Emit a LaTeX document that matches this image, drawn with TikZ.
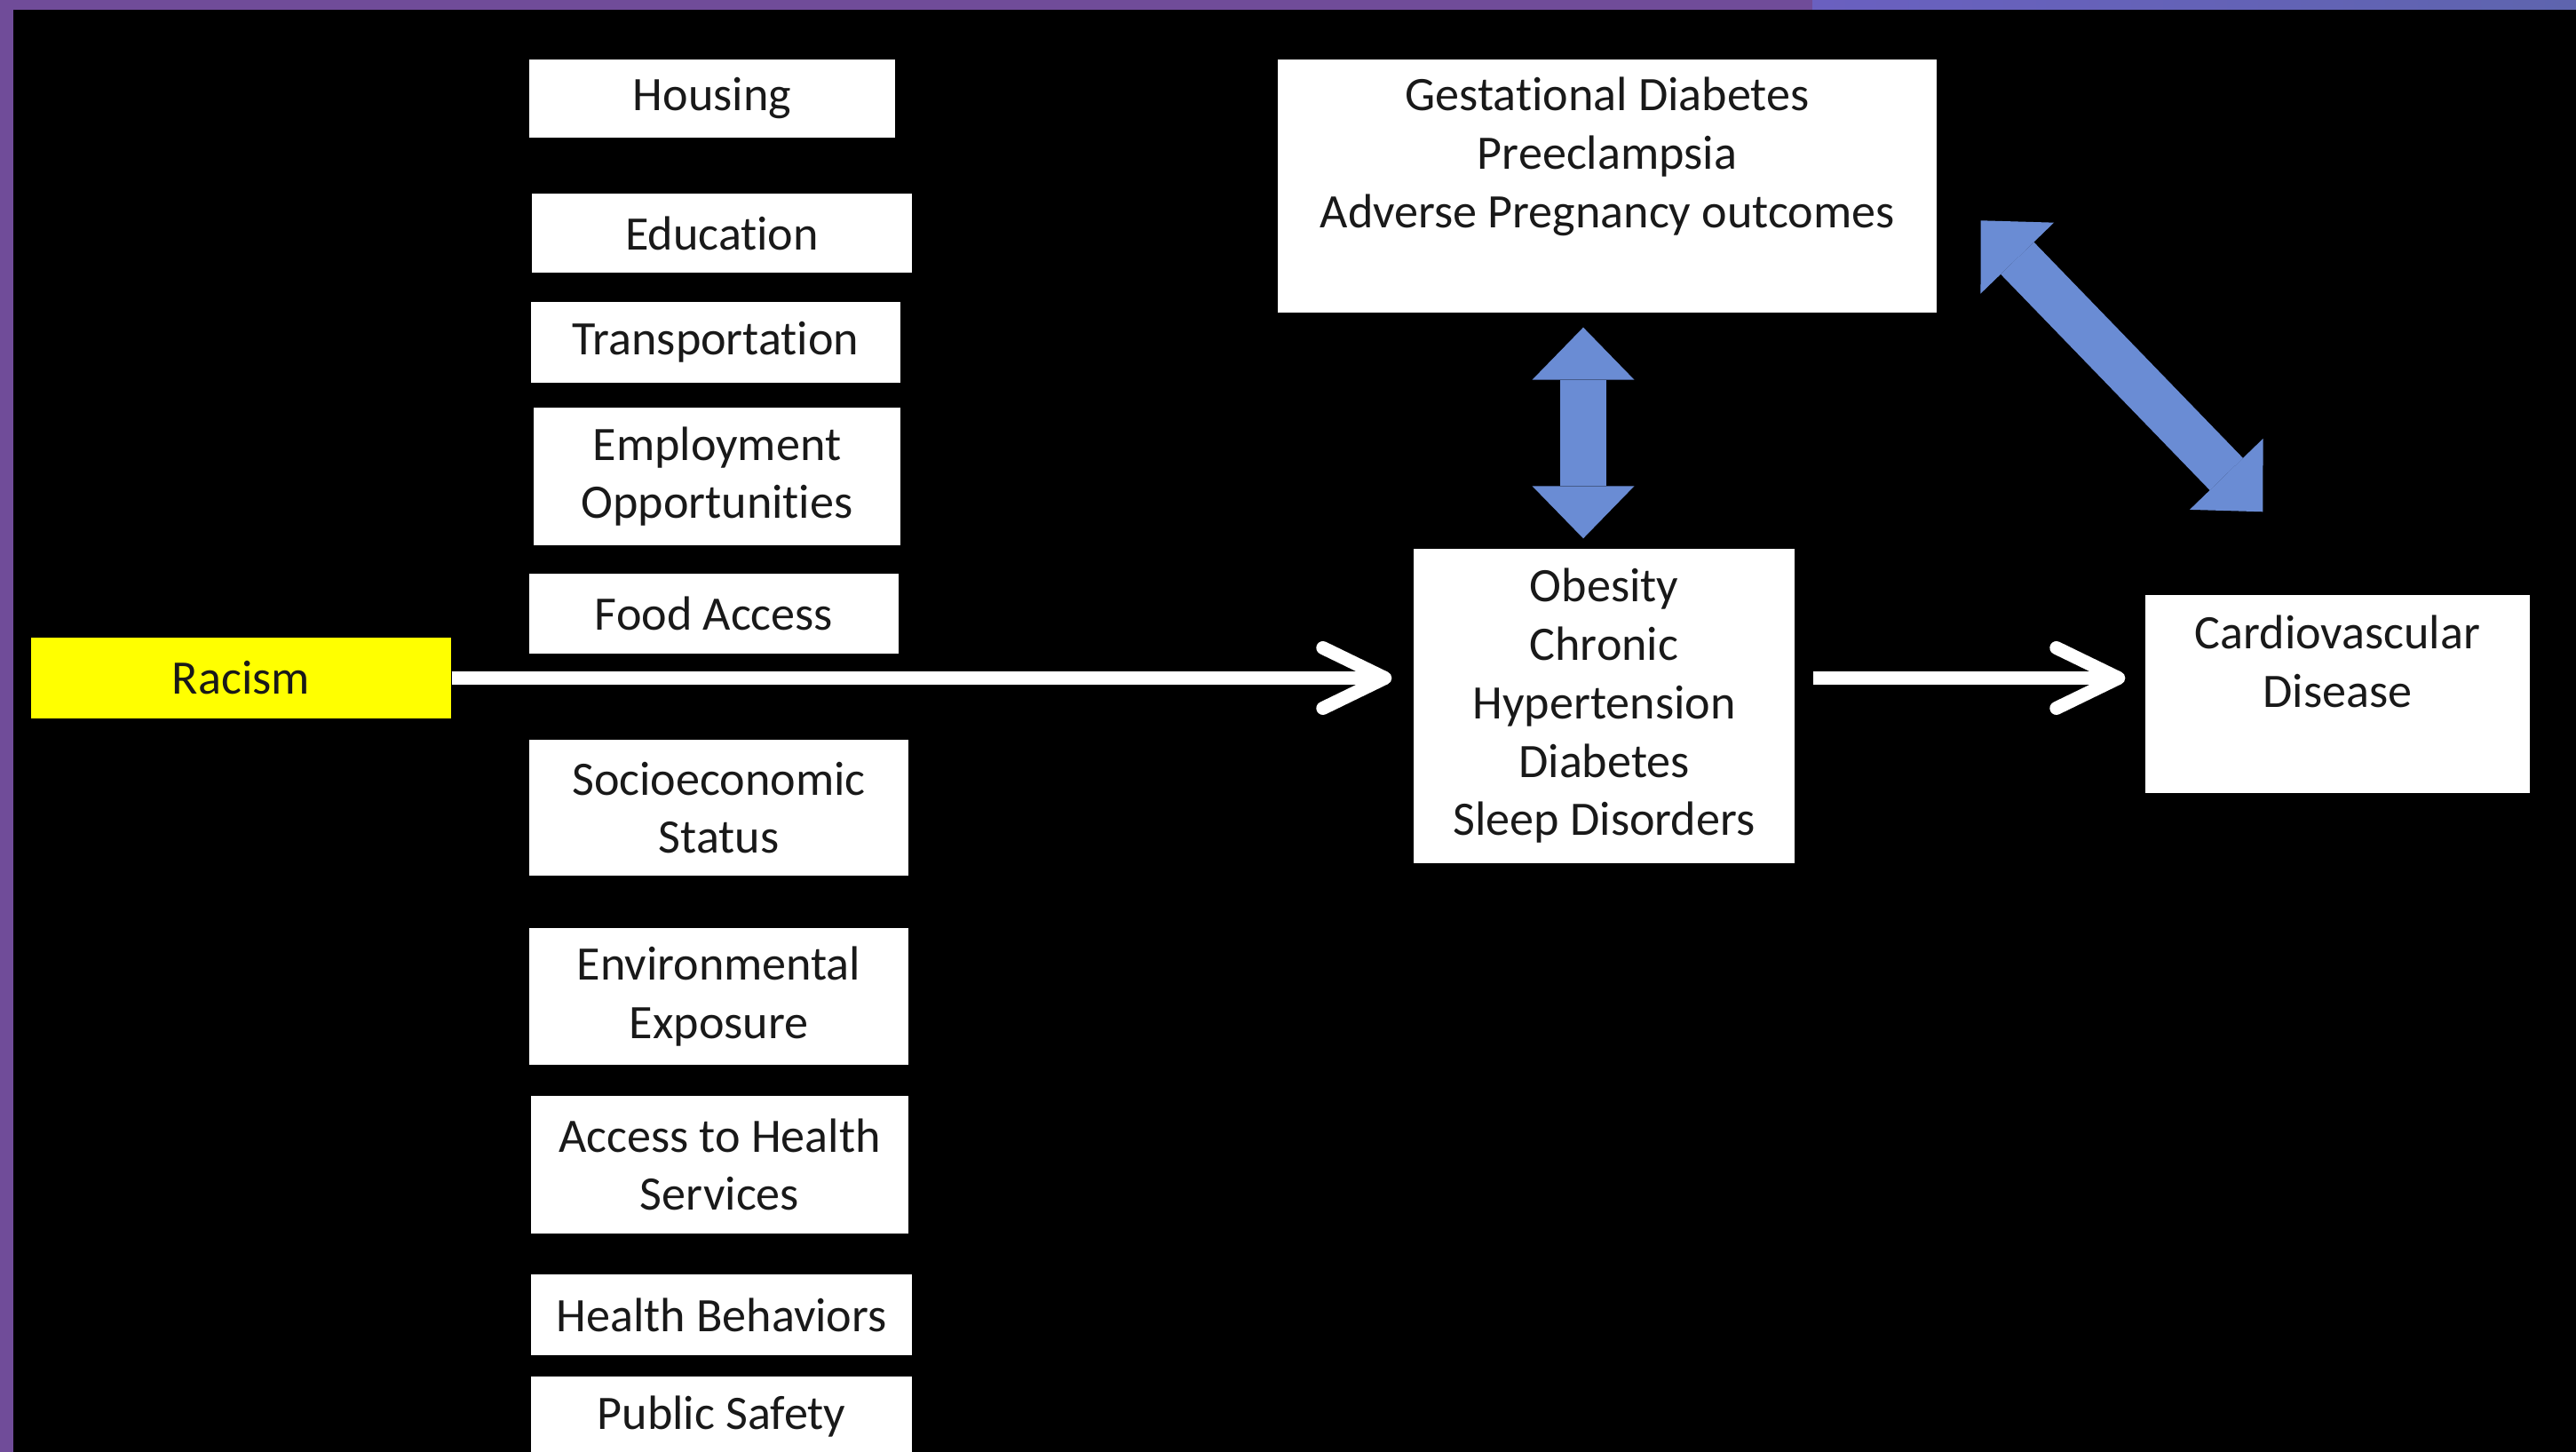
\documentclass[tikz,border=0pt]{standalone}
\usepackage{fontspec}
\setmainfont{Carlito}[Ligatures=NoCommon]
\usepackage{xcolor}
\usepackage{tikz}
\usetikzlibrary{arrows.meta}
\definecolor{slidepurple}{RGB}{112,76,153}
\definecolor{slideblue}{RGB}{106,96,192}
\definecolor{slidebluer}{RGB}{94,100,174}
\definecolor{linkblue}{RGB}{106,140,212}
\definecolor{racismyellow}{RGB}{255,255,0}

\begin{document}
\begin{tikzpicture}
\tikzstyle{every node}+=[inner sep=0pt, text=black!90, font=\fontsize{15.4}{18.7}\selectfont]
\tikzstyle{factor}=[fill=white, align=center]
\tikzstyle{cause}=[fill=racismyellow, align=center]
\tikzstyle{oneway}=[white, line width=0.15cm, -{Straight Barb[length=0.7cm, width=0.68cm, round]}]
\tikzstyle{twoway}=[linkblue, line width=0.52cm, {Triangle[length=0.59cm, width=1.15cm, line width=0pt]}-{Triangle[length=0.59cm, width=1.15cm, line width=0pt]}]
\useasboundingbox (0,0) rectangle (29.01,-16.35);
\fill [black] (0,0) rectangle (29.01,-16.35);
\fill [slidepurple] (0,0) rectangle (0.15,-16.35);
\fill [slidepurple] (0,0) rectangle (20.41,-0.11);
\shade [left color=slideblue, right color=slidebluer] (20.41,0) rectangle (29.01,-0.11);
\node [cause, minimum width=4.73cm, minimum height=0.91cm] (racism) at (2.715,-7.635) {Racism};
\node [factor, minimum width=4.12cm, minimum height=0.88cm] (housing) at (8.02,-1.11) {Housing};
\node [factor, minimum width=4.28cm, minimum height=0.89cm] (education) at (8.13,-2.625) {Education};
\node [factor, minimum width=4.16cm, minimum height=0.91cm] (transport) at (8.06,-3.855) {Transportation};
\node [factor, minimum width=4.13cm, minimum height=1.55cm] (employ) at (8.075,-5.365) {Employment\\Opportunities};
\node [factor, minimum width=4.16cm, minimum height=0.90cm] (food) at (8.04,-6.91) {Food Access};
\node [factor, minimum width=4.27cm, minimum height=1.53cm] (socio) at (8.095,-9.095) {Socioeconomic\\Status};
\node [factor, minimum width=4.27cm, minimum height=1.54cm] (environ) at (8.095,-11.22) {Environmental\\Exposure};
\node [factor, minimum width=4.25cm, minimum height=1.55cm] (access) at (8.105,-13.115) {Access to Health\\Services};
\node [factor, minimum width=4.29cm, minimum height=0.91cm] (behav) at (8.125,-14.805) {Health Behaviors};
\node [factor, minimum width=4.29cm, minimum height=0.91cm] (safety) at (8.125,-15.955) {Public Safety};
\node [factor, minimum width=4.29cm, minimum height=3.54cm] (obesity) at (18.065,-7.95) {Obesity\\Chronic\\Hypertension\\Diabetes\\Sleep Disorders};
\node [factor] (gest) at (18.10,-2.095) {\parbox[c][2.85cm][t]{7.42cm}{\centering\vspace*{0.2cm}Gestational Diabetes\\Preeclampsia\\Adverse Pregnancy outcomes}};
\node [factor] (cardio) at (26.325,-7.815) {\parbox[c][2.23cm][t]{4.33cm}{\centering\vspace*{0.23cm}Cardiovascular\\Disease}};
\draw [oneway, shorten >=0.24cm] (racism.east) -- (racism.east -| obesity.west);
\draw [oneway, shorten <=0.2cm, shorten >=0.22cm] (racism.east -| obesity.east) -- (racism.east -| cardio.west);
\draw [twoway, shorten <=0.16cm, shorten >=0.11cm] ([xshift=-0.27cm]gest.south) -- ([xshift=-0.235cm]obesity.north);
\draw [twoway] ([xshift=0.49cm, yshift=-1.82cm]gest.north east) -- ([xshift=1.33cm, yshift=0.93cm]cardio.north west);
\end{tikzpicture}
\end{document}
